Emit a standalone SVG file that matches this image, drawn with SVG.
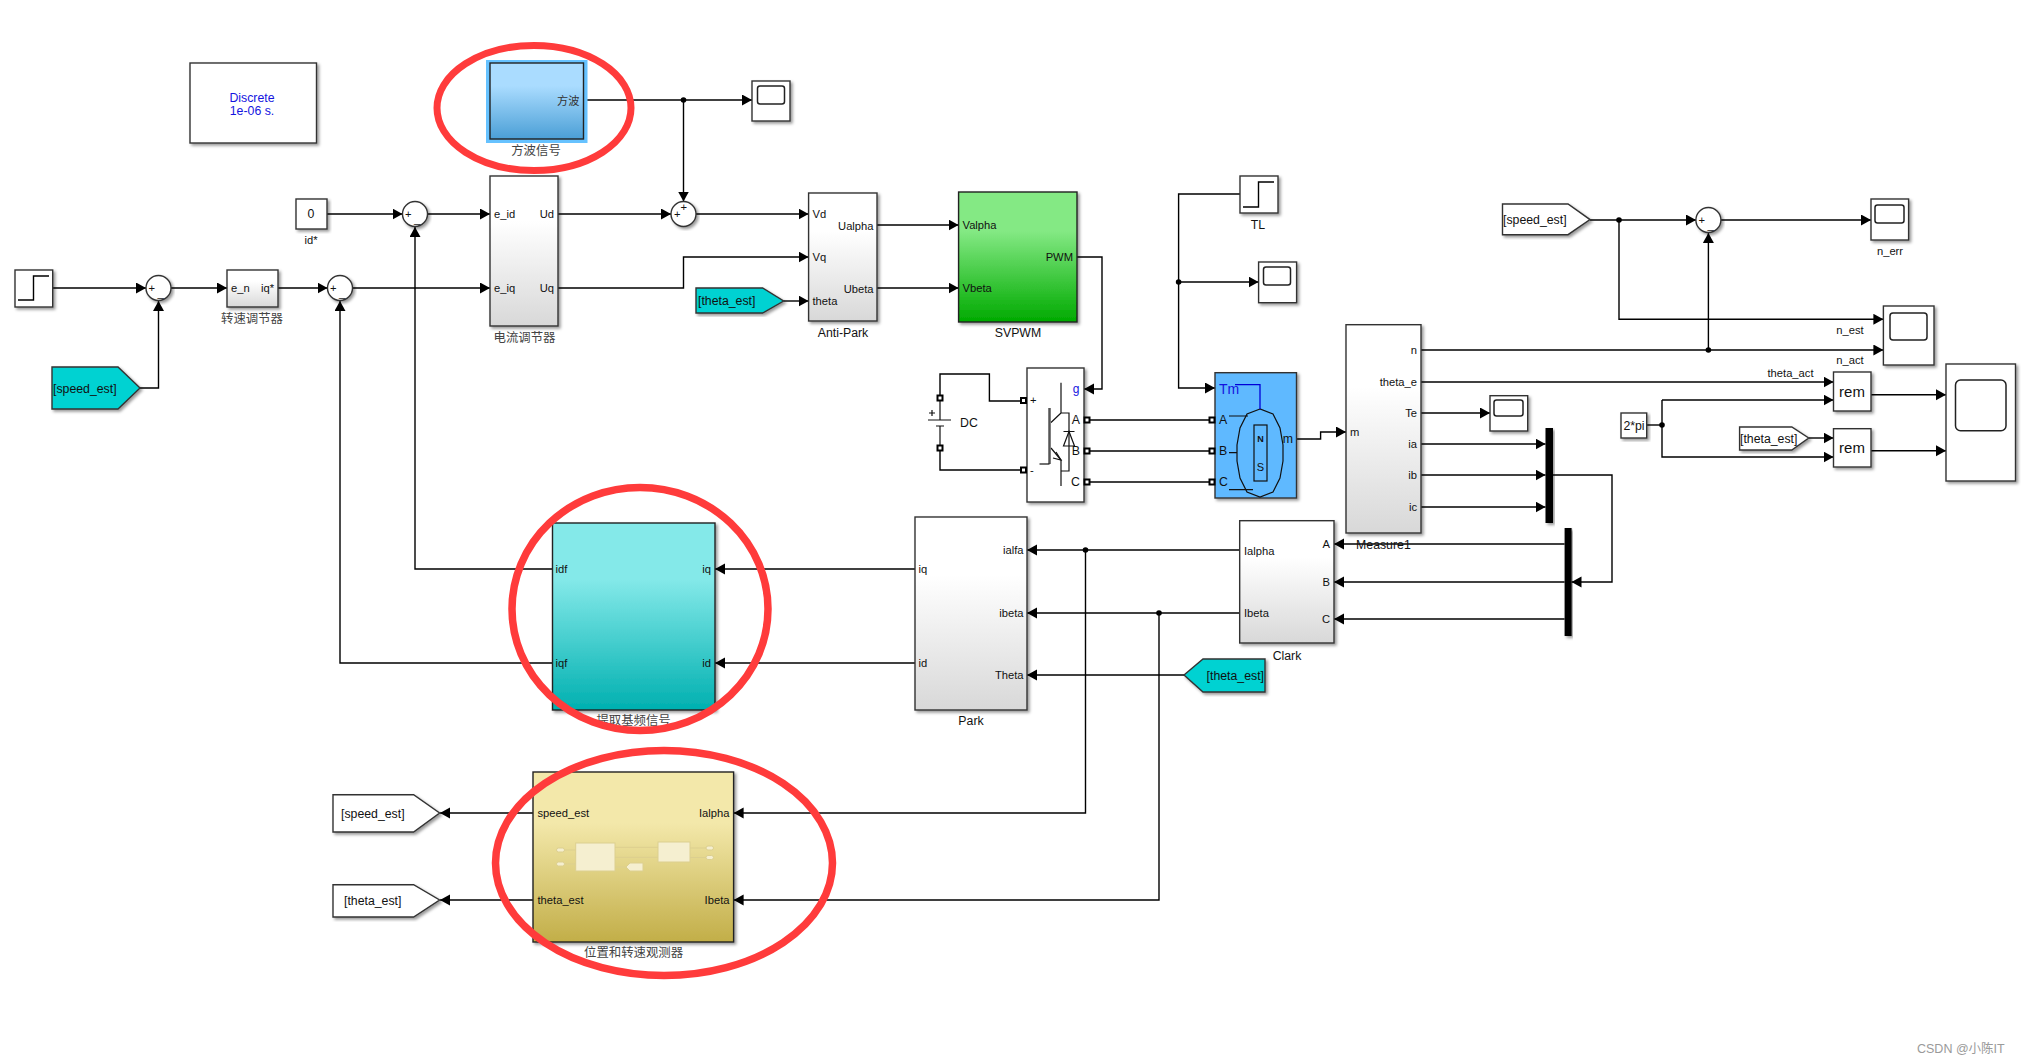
<svg xmlns="http://www.w3.org/2000/svg" width="2021" height="1064" viewBox="0 0 2021 1064">
<style>
text{font-family:"Liberation Sans",Arial,"Noto Sans CJK SC",sans-serif;font-size:11.2px;fill:#111}
.n{font-size:12.3px}
.zh{font-family:"Noto Sans CJK SC","Liberation Sans",sans-serif;font-size:12.4px;fill:#444;text-anchor:middle}
.m{text-anchor:middle}
.e{text-anchor:end}
.b{fill:#fff;stroke:#333;stroke-width:1.4;filter:url(#sh)}
.g{fill:url(#gGrey);stroke:#333;stroke-width:1.4;filter:url(#sh)}
.scr{fill:#fff;stroke:#222;stroke-width:1.5}
.w{fill:none;stroke:#000;stroke-width:1.4}
.a{marker-end:url(#arr)}
.red{fill:none;stroke:#ff3b3b}
.d{fill:#000}
.p{fill:#fff;stroke:#000;stroke-width:2}
.i{fill:none;stroke:#111;stroke-width:1.2}
.ic{fill:#f5efd0;stroke:#dccf8f;stroke-width:1}
.il{fill:none;stroke:#dccf8f;stroke-width:1}
</style>
<defs>
<filter id="sh" x="-15%" y="-15%" width="130%" height="130%"><feDropShadow dx="2" dy="2" stdDeviation="1.5" flood-color="#000" flood-opacity="0.4"/></filter>
<marker id="arr" markerUnits="userSpaceOnUse" markerWidth="11" markerHeight="12" refX="10" refY="5.5" orient="auto"><path d="M0,0L10,5.5L0,11Z" fill="#000"/></marker>
<linearGradient id="gGrey" x1="0" y1="0" x2="0" y2="1"><stop offset="0" stop-color="#fff"/><stop offset=".3" stop-color="#fff"/><stop offset="1" stop-color="#d8d8d8"/></linearGradient>
<linearGradient id="gBlue" x1="0" y1="0" x2="0" y2="1"><stop offset="0" stop-color="#aadcff"/><stop offset=".3" stop-color="#aadcff"/><stop offset="1" stop-color="#4b9fd6"/></linearGradient>
<linearGradient id="gCyan" x1="0" y1="0" x2="0" y2="1"><stop offset="0" stop-color="#84e9e9"/><stop offset=".3" stop-color="#84e9e9"/><stop offset="1" stop-color="#00b0b0"/></linearGradient>
<linearGradient id="gGreen" x1="0" y1="0" x2="0" y2="1"><stop offset="0" stop-color="#84e984"/><stop offset=".3" stop-color="#84e984"/><stop offset="1" stop-color="#00aa00"/></linearGradient>
<linearGradient id="gYel" x1="0" y1="0" x2="0" y2="1"><stop offset="0" stop-color="#f3e8aa"/><stop offset=".3" stop-color="#f3e8aa"/><stop offset="1" stop-color="#c2ae48"/></linearGradient>
</defs>
<rect width="2021" height="1064" fill="#fff"/>

<g id="connectors">
<path class="w a" d="M53,288H146"/>
<path class="w a" d="M171,288H227"/>
<path class="w a" d="M278,288H327.500"/>
<path class="w a" d="M352.500,288H490"/>
<path class="w a" d="M140,388H158.500V301"/>
<path class="w a" d="M327,214H402.500"/>
<path class="w a" d="M427.500,214H490"/>
<path class="w a" d="M558,214H671"/>
<path class="w a" d="M583.500,100H752"/>
<path class="w a" d="M683.500,100V201.500"/>
<path class="w a" d="M696,214H808.600"/>
<path class="w a" d="M558,288H683.500V257H808.600"/>
<path class="w a" d="M783.600,301H808.600"/>
<path class="w a" d="M877,225H958.600"/>
<path class="w a" d="M877,288H958.600"/>
<path class="w a" d="M1077,257H1102V389H1084"/>
<path class="w" d="M940,398V374H989.400V401H1024"/>
<path class="w" d="M940,448V470H1024"/>
<path class="w" d="M1087,420H1212"/>
<path class="w" d="M1087,451H1212"/>
<path class="w" d="M1087,482H1212"/>
<path class="w a" d="M1240,194H1178.600V388H1215"/>
<path class="w a" d="M1178.600,282H1258.600"/>
<path class="w a" d="M1296.500,439H1320.600V432H1346"/>
<path class="w a" d="M1421,350H1883.400"/>
<path class="w a" d="M1421,382H1833.500"/>
<path class="w a" d="M1421,413H1490"/>
<path class="w a" d="M1421,444H1545.500"/>
<path class="w a" d="M1421,475H1545.500"/>
<path class="w a" d="M1421,507H1545.500"/>
<path class="w a" d="M1553,475H1612V582H1571.500"/>
<path class="w a" d="M1564.600,544H1334"/>
<path class="w a" d="M1564.600,582H1334"/>
<path class="w a" d="M1564.600,619H1334"/>
<path class="w a" d="M1239.700,550H1027"/>
<path class="w a" d="M1239.700,613H1027"/>
<path class="w a" d="M1184,675H1027"/>
<path class="w a" d="M915,569H715"/>
<path class="w a" d="M915,663H715"/>
<path class="w a" d="M552.500,569H415V227"/>
<path class="w a" d="M552.500,663H340V301"/>
<path class="w a" d="M533,813H440"/>
<path class="w a" d="M533,900H440"/>
<path class="w a" d="M1085.500,550V813H733.600"/>
<path class="w a" d="M1159,613V900H733.600"/>
<path class="w a" d="M1590,220H1696"/>
<path class="w a" d="M1721,220H1871"/>
<path class="w a" d="M1619,220V319.300H1883.400"/>
<path class="w a" d="M1708.400,350V233"/>
<path class="w a" d="M1871,394.700H1946"/>
<path class="w a" d="M1871,450.700H1946"/>
<path class="w" d="M1646.700,425H1662"/>
<path class="w a" d="M1662,400H1833.500"/>
<path class="w a" d="M1662,400V457H1833.500"/>
<path class="w a" d="M1808.700,438H1833.500"/>
<circle class="d" cx="683.500" cy="100" r="2.800"/>
<circle class="d" cx="1178.600" cy="282" r="2.800"/>
<circle class="d" cx="1085.500" cy="550" r="2.800"/>
<circle class="d" cx="1159" cy="613" r="2.800"/>
<circle class="d" cx="1619" cy="220" r="2.800"/>
<circle class="d" cx="1708.400" cy="350" r="2.800"/>
<circle class="d" cx="1662" cy="425" r="2.800"/>
</g>

<g id="powergui"><rect class="b" x="190" y="63" width="126.500" height="80"/><text class="n m" x="252" y="102" style="fill:#1414e0">Discrete</text><text class="n m" x="252" y="115" style="fill:#1414e0">1e-06 s.</text></g>

<g id="square-wave"><rect x="486" y="60" width="101.500" height="83" fill="#66c2ff"/><rect x="490" y="63" width="93.500" height="76" fill="url(#gBlue)" stroke="#222" stroke-width="1.400"/><text class="e" x="579.500" y="105" style="fill:#333">方波</text><text class="zh" x="536" y="155">方波信号</text></g>
<g id="scope-top"><rect class="b" x="752" y="81" width="38" height="40"/><rect class="scr" x="757.500" y="86" width="27" height="18" rx="2.500"/></g>
<g id="const-id"><rect class="b" x="296" y="199" width="31" height="30"/><text class="n m" x="311" y="218">0</text><text class="m" x="311" y="244">id*</text></g>

<g id="sum-id"><circle class="b" cx="415" cy="214" r="12.500"/><text x="405" y="218">+</text><text x="414" y="223">_</text></g>
<g id="sum-speed"><circle class="b" cx="158.500" cy="288" r="12.500"/><text x="148.500" y="292">+</text><text x="157.500" y="297">_</text></g>
<g id="sum-iq"><circle class="b" cx="340" cy="288" r="12.500"/><text x="330" y="292">+</text><text x="339" y="297">_</text></g>
<g id="sum-vd"><circle class="b" cx="683.500" cy="214" r="12.500"/><text x="674" y="218">+</text><text x="680.500" y="211">+</text></g>
<g id="sum-err"><circle class="b" cx="1708.400" cy="220" r="12.500"/><text x="1698.500" y="224">+</text><text x="1707.500" y="229">_</text></g>

<g id="step-ref"><rect class="b" x="15" y="270" width="37.700" height="37"/><path class="w" d="M18,300H33.500V276H49"/></g>
<g id="speed-reg"><rect class="g" x="227" y="270" width="51" height="37"/><text x="231" y="292">e_n</text><text class="e" x="274" y="292">iq*</text><text class="zh" x="252" y="323">转速调节器</text></g>
<g id="goto-speed-cyan"><path class="b" style="fill:#00d2d2" d="M52,367H118L140,388L118,409H52Z"/><text class="n" x="53" y="393">[speed_est]</text></g>

<g id="current-reg"><rect class="g" x="490" y="176" width="68" height="150"/><text x="494" y="218">e_id</text><text x="494" y="292">e_iq</text><text class="e" x="554" y="218">Ud</text><text class="e" x="554" y="292">Uq</text><text class="zh" x="524.500" y="342">电流调节器</text></g>

<g id="anti-park"><rect class="g" x="808.600" y="193" width="68.400" height="128"/><text x="812.500" y="218">Vd</text><text x="812.500" y="261">Vq</text><text x="812.500" y="305">theta</text><text class="e" x="873.500" y="230">Ualpha</text><text class="e" x="873.500" y="293">Ubeta</text><text class="n m" x="843" y="337">Anti-Park</text></g>
<g id="goto-theta-cyan"><path class="b" style="fill:#00d2d2" d="M696,288H762.600L783.600,301L762.600,313H696Z"/><text class="n" x="698" y="305">[theta_est]</text></g>

<g id="svpwm"><rect x="958.600" y="192" width="118.400" height="130" fill="url(#gGreen)" stroke="#222" stroke-width="1.400" filter="url(#sh)"/><text x="962.500" y="229">Valpha</text><text x="962.500" y="292">Vbeta</text><text class="e" x="1073" y="261">PWM</text><text class="n m" x="1018" y="337">SVPWM</text></g>

<g id="dc-source"><path class="i" d="M940,398V420M928,420H951M936,426H944M940,426V448"/><path class="i" d="M929,413H935M932,410V416"/><rect class="p" x="937.500" y="395.500" width="5" height="5"/><rect class="p" x="937.500" y="445.500" width="5" height="5"/><text class="n" x="960" y="427">DC</text></g>

<g id="inverter"><rect class="b" x="1027" y="368" width="57" height="134"/>
<path class="i" d="M1061,382.700V413H1069V471H1061V486M1061,413L1051,422.500M1051,448L1061,460V471"/>
<path d="M1049.500,408V464" stroke="#555" stroke-width="2.500" fill="none"/><path class="i" d="M1039.500,464H1049.500"/>
<path class="i" d="M1063.500,431.500H1074.500M1063.500,446L1069,431.500L1074.500,446Z"/><path class="i" d="M1056,452L1061,460L1053,458"/>
<rect class="p" x="1021" y="398" width="5" height="5"/><rect class="p" x="1021" y="467.500" width="5" height="5"/>
<rect class="p" x="1084.500" y="417.500" width="5" height="5"/><rect class="p" x="1084.500" y="448.500" width="5" height="5"/><rect class="p" x="1084.500" y="479.500" width="5" height="5"/>
<text x="1030" y="404">+</text><text x="1030" y="474">-</text><text class="e" x="1079.500" y="393" style="fill:#1414e0;font-size:12px">g</text><text class="e n" x="1080" y="424">A</text><text class="e n" x="1080" y="455">B</text><text class="e n" x="1080" y="486">C</text></g>

<g id="step-tl"><rect class="b" x="1240" y="176" width="38" height="37"/><path class="w" d="M1243,207H1258.500V182H1274"/><text class="n m" x="1258" y="229">TL</text></g>
<g id="scope-tl"><rect class="b" x="1258.600" y="262" width="38" height="40.700"/><rect class="scr" x="1263.500" y="267" width="27" height="18" rx="2.500"/></g>

<g id="motor"><rect x="1215" y="372.700" width="81.500" height="125.300" fill="#5fb9ff" stroke="#333" stroke-width="1.400" filter="url(#sh)"/>
<path class="i" d="M1260,409L1247,414L1240,428L1237,445V461L1240,478L1247,492L1260,497L1273,492L1280,478L1283,461V445L1280,428L1273,414Z"/>
<rect class="i" x="1254" y="425" width="13" height="56"/>
<path class="i" d="M1229,416H1248M1229,452.700H1237M1229,489.700H1253"/>
<path d="M1235,384.700H1260V409" fill="none" stroke="#0000d8" stroke-width="1.300"/>
<text class="m" x="1260.500" y="442" style="font-size:9px;font-weight:bold">N</text><text class="m" x="1260.500" y="471" style="font-size:11px">S</text>
<rect class="p" x="1209.500" y="417.500" width="5" height="5"/><rect class="p" x="1209.500" y="448.500" width="5" height="5"/><rect class="p" x="1209.500" y="479.500" width="5" height="5"/>
<text x="1219" y="394" style="fill:#1414e0;font-size:14px">Tm</text><text class="n" x="1219" y="424">A</text><text class="n" x="1219" y="455">B</text><text class="n" x="1219" y="486">C</text><text class="e n" x="1293" y="443">m</text></g>

<g id="measure"><rect class="g" x="1346" y="324.700" width="75" height="208.300"/><text x="1350" y="436">m</text><text class="e" x="1417" y="354">n</text><text class="e" x="1417" y="386">theta_e</text><text class="e" x="1417" y="417">Te</text><text class="e" x="1417" y="448">ia</text><text class="e" x="1417" y="479">ib</text><text class="e" x="1417" y="511">ic</text><text class="n m" x="1383.400" y="549">Measure1</text></g>
<g id="scope-te"><rect class="b" x="1490" y="395.700" width="37.700" height="35.300"/><rect class="scr" x="1494" y="400" width="29" height="16" rx="2.500"/></g>
<g id="mux"><rect x="1545.500" y="428" width="7.500" height="95" fill="#000" filter="url(#sh)"/></g>
<g id="demux"><rect x="1564.600" y="528" width="7" height="108" fill="#000" filter="url(#sh)"/></g>

<g id="clark"><rect class="g" x="1239.700" y="520.700" width="94.300" height="122.300"/><text x="1244" y="555">Ialpha</text><text x="1244" y="617">Ibeta</text><text class="e" x="1330" y="548">A</text><text class="e" x="1330" y="586">B</text><text class="e" x="1330" y="623">C</text><text class="n m" x="1287" y="660">Clark</text></g>
<g id="park"><rect class="g" x="915" y="517" width="112" height="193"/><text x="918.500" y="573">iq</text><text x="918.500" y="667">id</text><text class="e" x="1023.500" y="554">ialfa</text><text class="e" x="1023.500" y="617">ibeta</text><text class="e" x="1023.500" y="679">Theta</text><text class="n m" x="971" y="725">Park</text></g>
<g id="from-theta-cyan"><path class="b" style="fill:#00d2d2" d="M1265,659H1203L1184,675L1203,692H1265Z"/><text class="n e" x="1264" y="680">[theta_est]</text></g>

<g id="fundamental"><rect x="552.500" y="523" width="162.500" height="187" fill="url(#gCyan)" stroke="#222" stroke-width="1.400" filter="url(#sh)"/><text x="555.500" y="573">idf</text><text x="555.500" y="667">iqf</text><text class="e" x="711" y="573">iq</text><text class="e" x="711" y="667">id</text><text class="zh" x="633.600" y="725">提取基频信号</text></g>

<g id="observer"><rect x="533" y="772" width="200.600" height="170" fill="url(#gYel)" stroke="#222" stroke-width="1.400" filter="url(#sh)"/>
<path class="il" d="M564,850H576M564,864H576M615,847.300H658M615,857.300H658M690,848H706M690,857.500H706M615,867H626"/>
<rect class="ic" x="575.700" y="843" width="39.300" height="28"/><rect class="ic" x="658" y="842" width="32" height="20"/>
<rect class="ic" x="556.500" y="848" width="8" height="4" rx="2"/><rect class="ic" x="556.500" y="862" width="8" height="4" rx="2"/><rect class="ic" x="706" y="846" width="7.500" height="4" rx="2"/><rect class="ic" x="706" y="855.500" width="7.500" height="4" rx="2"/>
<path class="ic" d="M643,863H630L626,867L630,871H643Z"/>
<text x="537.500" y="817">speed_est</text><text x="537.500" y="904">theta_est</text><text class="e" x="729.500" y="817">Ialpha</text><text class="e" x="729.500" y="904">Ibeta</text><text class="zh" x="633.600" y="957">位置和转速观测器</text></g>
<g id="goto-speed"><path class="b" d="M333,794.700H413.600L439.600,813L413.600,832H333Z"/><text class="n" x="341" y="818">[speed_est]</text></g>
<g id="goto-theta"><path class="b" d="M333,884.700H413.600L439.600,900L413.600,917H333Z"/><text class="n" x="344" y="905">[theta_est]</text></g>

<g id="from-speed"><path class="b" d="M1502.500,204H1568L1590,219.600L1568,234.700H1502.500Z"/><text class="n" x="1503" y="224">[speed_est]</text></g>
<g id="scope-nerr"><rect class="b" x="1871" y="199" width="37.600" height="41"/><rect class="scr" x="1875" y="205" width="29" height="18" rx="2.500"/><text class="m" x="1890" y="255">n_err</text></g>
<g id="scope-n"><rect class="b" x="1883.400" y="306" width="50.600" height="59"/><rect class="scr" x="1890" y="313" width="37" height="27" rx="3"/><text class="m" x="1850" y="334">n_est</text><text class="m" x="1850" y="364">n_act</text></g>
<text class="m" x="1790.500" y="377">theta_act</text>
<g id="rem-1"><rect class="b" x="1833.500" y="372" width="37.500" height="39"/><text class="m" x="1852" y="397" style="font-size:15px">rem</text></g>
<g id="rem-2"><rect class="b" x="1833.500" y="428.700" width="37.500" height="38.300"/><text class="m" x="1852" y="453" style="font-size:15px">rem</text></g>
<g id="const-2pi"><rect class="b" x="1621" y="413" width="25.700" height="25"/><text class="n m" x="1634" y="430">2*pi</text></g>
<g id="from-theta"><path class="b" d="M1739.600,427H1791.800L1808.700,438L1791.800,450H1739.600Z"/><text class="n" x="1740" y="443">[theta_est]</text></g>
<g id="scope-theta"><rect class="b" x="1946" y="364" width="69.500" height="117"/><rect class="scr" x="1955.500" y="380" width="50.500" height="50.700" rx="5"/></g>

<g id="highlights">
<ellipse class="red" cx="534" cy="108" rx="97" ry="62.500" stroke-width="7"/>
<ellipse class="red" cx="640" cy="609" rx="128" ry="121.500" stroke-width="7.500"/>
<ellipse class="red" cx="664" cy="863" rx="168.500" ry="112.500" stroke-width="7.500"/>
</g>
<text x="1917" y="1053" style="font-size:12.500px;fill:#9a9a9a">CSDN @小陈IT</text>
</svg>
